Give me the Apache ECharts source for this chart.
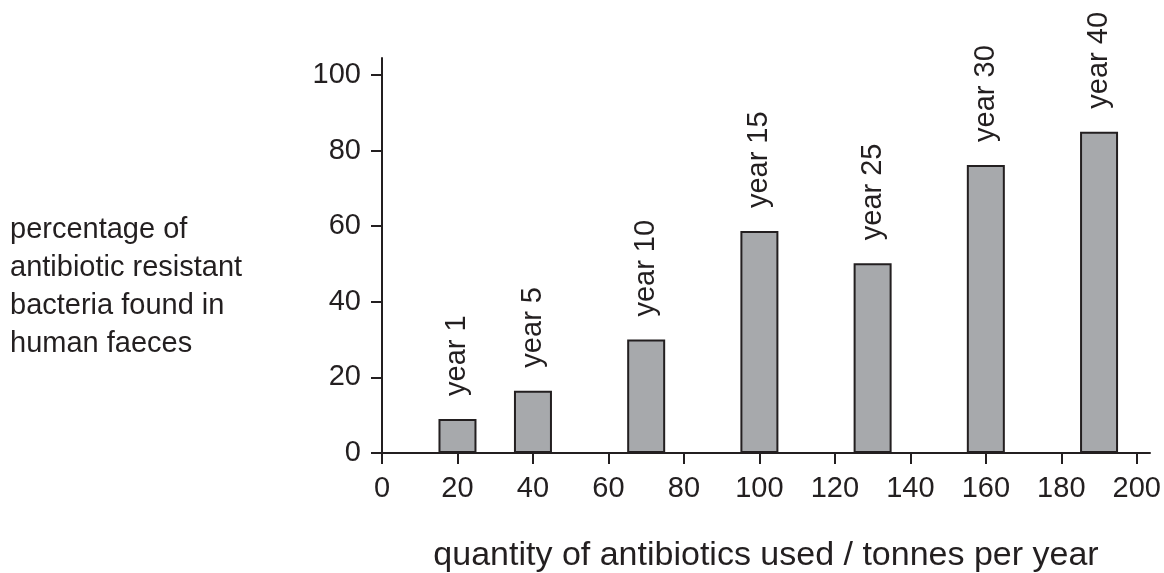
<!DOCTYPE html>
<html>
<head>
<meta charset="utf-8">
<script src="https://cdn.jsdelivr.net/npm/echarts@6/dist/echarts.min.js"></script>
<style>
  html, body { margin: 0; padding: 0; background: #fff; }
  #chart { width: 1164px; height: 573px; }
</style>
</head>
<body>
<div id="chart"></div>
<script>
// data
const quantities = [20, 40, 70, 100, 130, 160, 190];
const percentages = [9, 16.5, 30, 58.7, 50.2, 76.2, 85];
const yearLabels = ["year 1", "year 5", "year 10", "year 15", "year 25", "year 30", "year 40"];
const xTicks = [0, 20, 40, 60, 80, 100, 120, 140, 160, 180, 200];
const yTicks = [0, 20, 40, 60, 80, 100];

const ink = "#231f20";
const font = "Liberation Sans, Arial, sans-serif";

const chart = echarts.init(document.getElementById("chart"));

chart.setOption({
    animation: false,
    grid: { left: 382, right: 14, top: 58, bottom: 120, outerBoundsMode: "none" },
    graphic: [
        {
            type: "text",
            left: 10,
            top: 211,
            style: {
                text: "percentage of\nantibiotic resistant\nbacteria found in\nhuman faeces",
                font: "29px " + font,
                lineHeight: 38,
                fill: ink,
            },
        },
    ],
    xAxis: {
        type: "value",
        min: 0,
        max: 203.5,
        name: "quantity of antibiotics used / tonnes per year",
        nameLocation: "middle",
        nameGap: 86,
        nameTextStyle: { color: ink, fontSize: 34, fontFamily: font },
        axisLine: { show: true, onZero: false, lineStyle: { color: ink, width: 2 } },
        axisTick: { show: true, customValues: xTicks, length: 11, lineStyle: { color: ink, width: 2 } },
        axisLabel: { customValues: xTicks, margin: 21, color: ink, fontSize: 29, fontFamily: font },
        splitLine: { show: false },
    },
    yAxis: {
        type: "value",
        min: 0,
        max: 104.5,
        axisLine: { show: true, lineStyle: { color: ink, width: 2 } },
        axisTick: { show: true, customValues: yTicks, length: 11, lineStyle: { color: ink, width: 2 } },
        axisLabel: { customValues: yTicks, margin: 21, color: ink, fontSize: 29, fontFamily: font },
        splitLine: { show: false },
    },
    series: [
        {
            type: "bar",
            barWidth: 38,
            data: quantities.map((q, i) => [q, percentages[i]]),
            itemStyle: { color: "#a7a9ac", borderColor: ink, borderWidth: 2 },
            label: {
                show: true,
                position: "top",
                distance: 23,
                rotate: 90,
                align: "left",
                verticalAlign: "middle",
                color: ink,
                fontSize: 29,
                fontFamily: font,
                formatter: (p) => yearLabels[p.dataIndex],
            },
        },
    ],
});
</script>
</body>
</html>
